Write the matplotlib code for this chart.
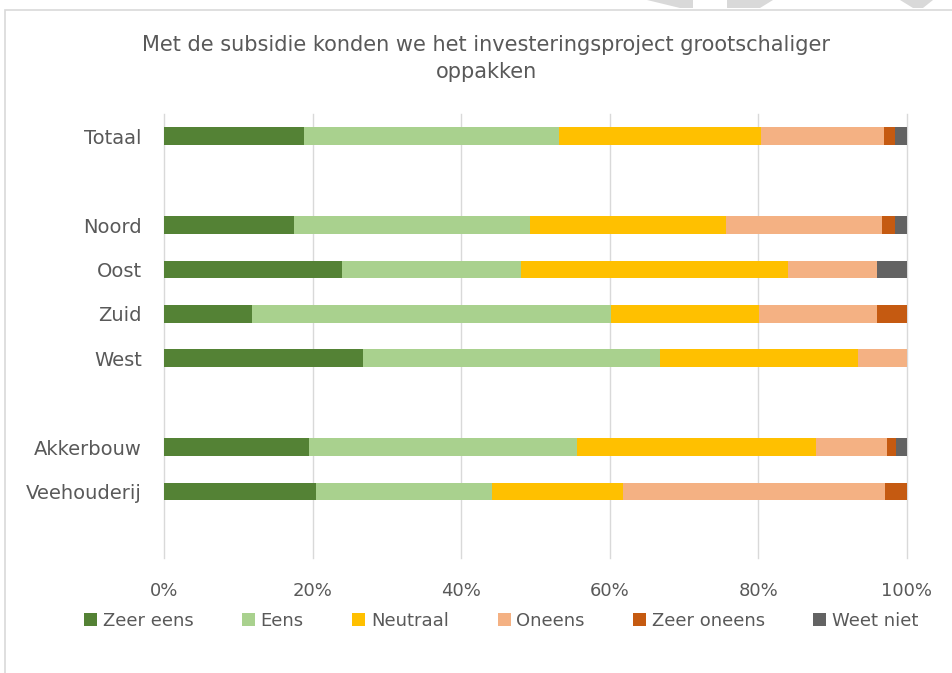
import matplotlib
matplotlib.use('Agg')
import matplotlib.pyplot as plt
from matplotlib.patches import Rectangle, Patch, Polygon
import numpy as np

categories = ['Totaal', '', 'Noord', 'Oost', 'Zuid', 'West', '', 'Akkerbouw', 'Veehouderij', '']
series_names = ['Zeer eens', 'Eens', 'Neutraal', 'Oneens', 'Zeer oneens', 'Weet niet']
zeer_eens = [18.9, 0, 17.5, 24.0, 11.9, 26.8, 0, 19.5, 20.5, 0]
eens = [34.3, 0, 31.7, 24.1, 48.3, 40.0, 0, 36.1, 23.7, 0]
neutraal = [27.1, 0, 26.4, 35.9, 19.9, 26.6, 0, 32.1, 17.6, 0]
oneens = [16.6, 0, 21.1, 12.0, 15.9, 6.6, 0, 9.6, 35.3, 0]
zeer_oneens = [1.5, 0, 1.7, 0.0, 4.0, 0.0, 0, 1.2, 2.9, 0]
weet_niet = [1.6, 0, 1.6, 4.0, 0.0, 0.0, 0, 1.5, 0.0, 0]
ticks = [0, 20, 40, 60, 80, 100]
title = 'Met de subsidie konden we het investeringsproject grootschaliger\noppakken'

colors = ['#548235', '#A9D18E', '#FFC000', '#F4B183', '#C55A11', '#636363']
text_color = '#595959'

plt.rcParams['font.family'] = ['DejaVu Sans']

fig = plt.figure(figsize=(9.53, 6.73), dpi=100)
ax = fig.add_axes([164 / 953, 1 - 558 / 673, (907 - 164) / 953, (558 - 114) / 673])

y = np.arange(len(categories))
left = np.zeros(len(categories))
for name, vals, col in zip(series_names,
                           [zeer_eens, eens, neutraal, oneens, zeer_oneens, weet_niet],
                           colors):
    vals = np.array(vals)
    ax.barh(y, vals, left=left, height=0.4, color=col, label=name, linewidth=0)
    left += vals

ax.set_ylim(len(categories) - 0.5, -0.5)
ax.set_xlim(0, 100)
ax.set_yticks(y)
ax.set_yticklabels(categories, fontsize=14, color=text_color)
ax.set_xticks(ticks)
ax.set_xticklabels([f'{t}%' for t in ticks], fontsize=13, color=text_color)
ax.tick_params(length=0)
ax.tick_params(axis='x', pad=17)
ax.tick_params(axis='y', pad=16)
ax.grid(axis='x', color='#d9d9d9', linewidth=1)
ax.set_axisbelow(True)
for gl in ax.get_xgridlines():
    gl.set_clip_on(False)
for s in ax.spines.values():
    s.set_visible(False)

fig.text(0.51, 1 - 58.5 / 673, title, ha='center', va='center', fontsize=15,
         color=text_color, linespacing=1.45)

handles = [Patch(facecolor=c, label=n) for n, c in zip(series_names, colors)]
fig.legend(handles=handles, loc='center', bbox_to_anchor=(0.526, 1 - 621 / 673),
           ncol=6, frameon=False, fontsize=13, handlelength=0.72, handleheight=0.72,
           handletextpad=0.3, columnspacing=2.7, labelcolor=text_color)

# chart border
fig.patches.append(Rectangle((5 / 953, -0.1), 1.2, 1 - 10 / 673 + 0.1,
                             transform=fig.transFigure, fill=False,
                             edgecolor='#d9d9d9', linewidth=1.2))

# watermark fragments at the top edge
W, H = 953, 673
for pts in [[(647, 0), (693, 0), (693, 8), (680, 8)],
            [(727, 0), (773, 0), (760, 8), (727, 8)],
            [(900, 0), (933, 0), (923, 8), (913, 8)]]:
    fig.patches.append(Polygon([(px / W, 1 - py / H) for px, py in pts], closed=True,
                               transform=fig.transFigure, facecolor='#d9d9d9',
                               edgecolor='none'))

fig.savefig('out.png', dpi=100)
